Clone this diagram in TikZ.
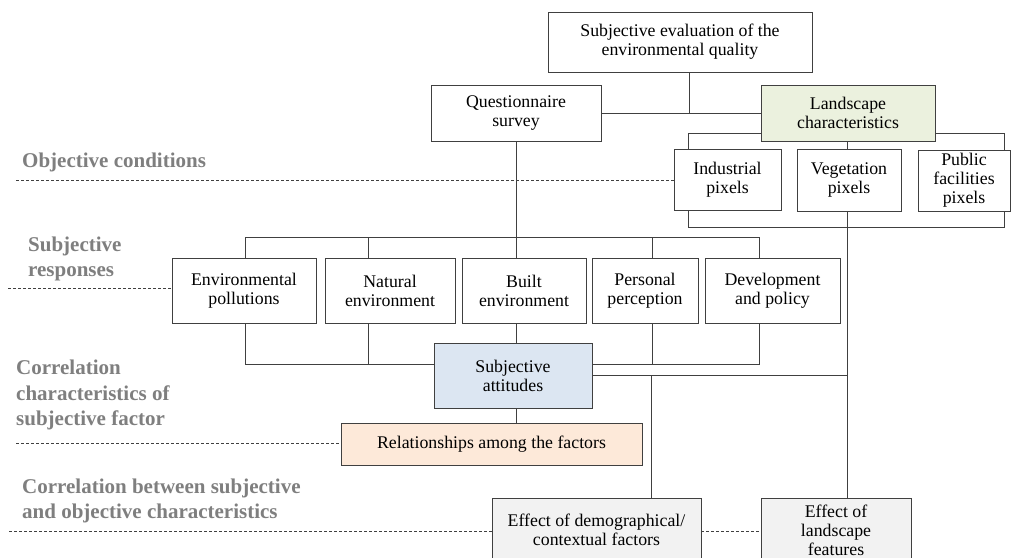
\documentclass[tikz,border=0pt]{standalone}
\usepackage{fontspec}
\setmainfont{Liberation Serif}
\usetikzlibrary{backgrounds}
\definecolor{lgreen}{HTML}{EBF1DE}
\definecolor{lblue}{HTML}{DCE6F2}
\definecolor{lpeach}{HTML}{FDE9D9}
\definecolor{lgray}{HTML}{F2F2F2}
\definecolor{edge}{HTML}{404040}
\definecolor{lbl}{HTML}{7F7F7F}
\tikzset{
  box/.style={draw=edge, line width=0.9pt, fill=white, align=center, inner sep=0pt,
    font=\fontsize{17.8}{19}\selectfont},
  conn/.style={draw=edge, line width=0.9pt},
  guide/.style={draw=edge, line width=0.8pt, dash pattern=on 3pt off 2pt},
  lab/.style={anchor=west, align=left, inner sep=0pt, text=lbl,
    font=\fontsize{21}{25.5}\selectfont\bfseries}
}
\begin{document}
\begin{tikzpicture}[x=1pt,y=-1pt]
\useasboundingbox (0,0) rectangle (1011,557);
\clip (0,0) rectangle (1011,557);

% coordinates for bus corners
\coordinate (j1) at (689,113);
\coordinate (lt1) at (688,133);
\coordinate (lt2) at (1004,133);
\coordinate (lb1) at (688,227);
\coordinate (lb2) at (1004,227);
\coordinate (st1) at (245,237);
\coordinate (st2) at (759,237);
\coordinate (sb1) at (245,364);
\coordinate (sb2) at (759,364);
\coordinate (t2) at (368,237);
\coordinate (b2) at (368,364);
\coordinate (t4) at (652,237);
\coordinate (b4) at (652,364);
\coordinate (r1) at (651,375);
\coordinate (r2) at (847,375);
\coordinate (g1) at (16,180);
\coordinate (g2) at (8,288);
\coordinate (g3) at (16,443);
\coordinate (g4) at (9,531);

% boxes
\path
 node[box, minimum width=264, minimum height=60] (top) at (680,42) {Subjective evaluation of the\\environmental quality}
 node[box, minimum width=170, minimum height=56] (quest) at (516,113) {Questionnaire\\survey}
 node[box, fill=lgreen, minimum width=174, minimum height=56] (land) at (848,113) {Landscape\\characteristics}
 node[box, minimum width=107, minimum height=61] (ind) at (727.5,179.5) {Industrial\\pixels}
 node[box, minimum width=104, minimum height=62] (veg) at (849,180) {Vegetation\\pixels}
 node[box, minimum width=92, minimum height=61] (pub) at (964,180.5) {Public\\facilities\\pixels}
 node[box, minimum width=144, minimum height=65] (env) at (244,290.5) {Environmental\\pollutions}
 node[box, minimum width=130, minimum height=65] (nat) at (390,290.5) {Natural\\environment}
 node[box, minimum width=124, minimum height=65] (built) at (524,290.5) {Built\\environment}
 node[box, minimum width=106, minimum height=65] (pers) at (645,290.5) {Personal\\perception}
 node[box, minimum width=135, minimum height=65] (dev) at (772.5,290.5) {Development\\and policy}
 node[box, fill=lblue, minimum width=158, minimum height=65] (att) at (513,375.5) {Subjective\\attitudes}
 node[box, fill=lpeach, minimum width=301, minimum height=42] (rel) at (491.5,444) {Relationships among the factors}
 node[box, fill=lgray, minimum width=209, minimum height=64] (demo) at (596.5,530) {Effect of demographical/\\contextual factors}
 node[box, fill=lgray, minimum width=150, minimum height=64] (effl) at (836,530) {Effect of\\landscape\\features};

% labels
\node[lab] (l1) at (22,162) {Objective conditions};
\node[lab] (l2) at (28,259) {Subjective\\responses};
\node[lab] (l3) at (16,395) {Correlation\\characteristics of\\subjective factor};
\node[lab] (l4) at (22,501) {Correlation between subjective\\and objective characteristics};

% connectors behind boxes
\begin{scope}[on background layer]
\fill[white] (0,0) rectangle (1011,557);
\draw[conn] (top.south -| j1) -- (j1);
\draw[conn] (quest.east) -- (land.west);
\draw[conn] (lt1) -- (lt2) -- (lb2) -- (lb1) -- cycle;
\draw[conn] (land.south -| r2) -- (r2 |- effl.north);
\draw[conn] (st1) -- (st2) -- (sb2) -- (sb1) -- cycle;
\draw[conn] (t2) -- (b2);
\draw[conn] (t4) -- (b4);
\draw[conn] (quest.south) -- (quest.south |- rel.north);
\draw[conn] (att.east |- r1) -- (r2);
\draw[conn] (r1) -- (r1 |- demo.north);
\draw[guide] (g1) -- (g1 -| ind.west);
\draw[guide] (g2) -- (g2 -| env.west);
\draw[guide] (g3) -- (g3 -| rel.west);
\draw[guide] (g4) -- (g4 -| demo.west);
\draw[guide] (demo.east |- g4) -- (effl.west |- g4);
\end{scope}
\end{tikzpicture}
\end{document}
